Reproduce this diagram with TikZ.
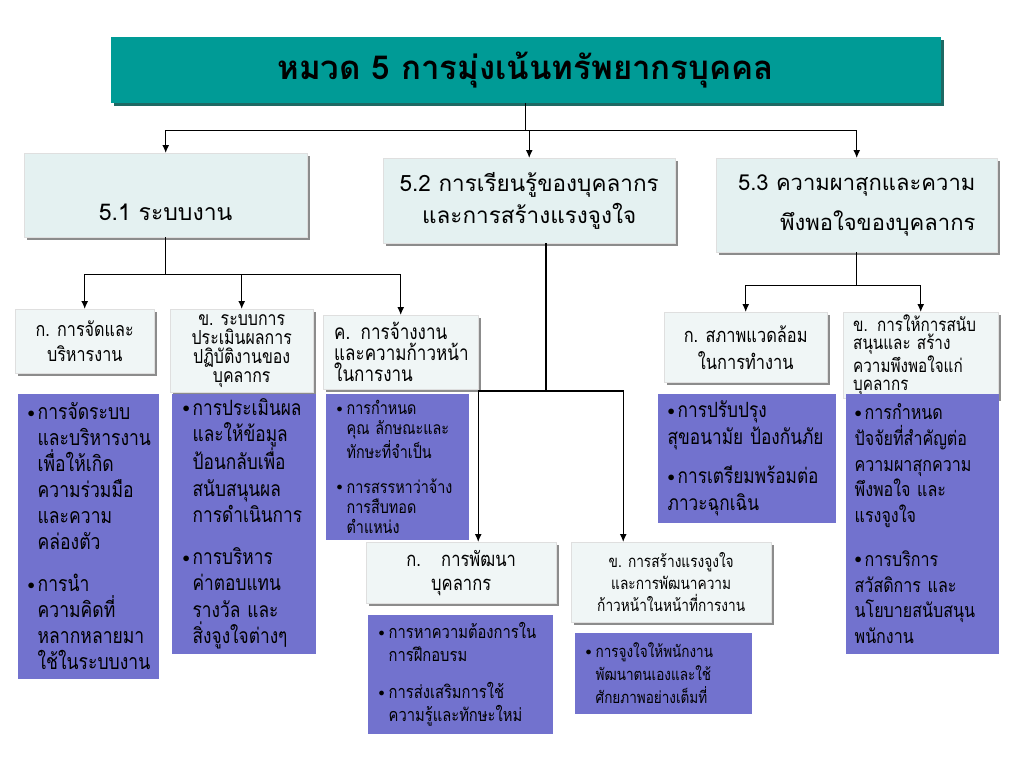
\documentclass[tikz,border=0pt]{standalone}
\usepackage{fontspec}
\setmainfont[Script=Thai]{Loma}
\newfontfamily\narrow[Script=Thai, FakeStretch=0.82]{Loma}
\usetikzlibrary{arrows.meta,shadows}
\definecolor{tealhead}{RGB}{0,155,150}
\definecolor{tealdark}{RGB}{30,105,100}
\definecolor{headbg}{RGB}{228,241,241}
\definecolor{subbg}{RGB}{240,246,246}
\definecolor{itembg}{RGB}{114,114,206}
\newcommand{\bul}{\makebox[10pt][l]{\raisebox{0.12em}{\scalebox{0.7}{$\bullet$}}}}
\newcommand{\ind}{\hspace*{10pt}}

\begin{document}
\begin{tikzpicture}[x=1pt, y=-1pt, line width=1.3pt,
  arr/.style={-{Latex[length=8pt,width=7pt]}},
  wh/.style 2 args={minimum width=#1pt, minimum height=#2pt, anchor=north west},
  head/.style={draw=gray!25, line width=0.4pt, fill=headbg, inner sep=0pt,
    drop shadow={shadow xshift=3pt, shadow yshift=-3pt, fill=black!45, opacity=1}},
  sub/.style={head, fill=subbg},
  item/.style={fill=itembg, inner sep=0pt, align=left}]
\useasboundingbox (0,0) rectangle (1024,768);

\node[wh={830}{66}, fill=tealhead, inner sep=0pt,
  drop shadow={shadow xshift=3pt, shadow yshift=-3pt, fill=tealdark, opacity=1},
  font=\fontsize{33}{38}\selectfont\bfseries] (title) at (110,36) {หมวด 5 การมุ่งเน้นทรัพยากรบุคคล};

\node[head, wh={283}{84}] (s51) at (24,153) {};
\node[font=\fontsize{23}{30}\selectfont] (s51txt) at ([yshift=-17pt]s51.center) {5.1 ระบบงาน};
\node[head, wh={292}{85}, align=center, font=\fontsize{22.5}{32}\selectfont] (s52) at (383,158) {5.2 การเรียนรู้ของบุคลากร\\และการสร้างแรงจูงใจ};
\node[head, wh={281}{94}, align=right, font=\fontsize{22}{40}\selectfont] (s53) at (716,158) {5.3 ความผาสุกและความ\\พึงพอใจของบุคลากร};

\node[sub, wh={139}{64}, align=center, font=\narrow\fontsize{19.7}{25}\selectfont] (a1) at (15,309) {ก. การจัดและ\\บริหารงาน};
\node[sub, wh={143}{83}, align=center, font=\narrow\fontsize{19.4}{19}\selectfont] (a2) at (170,309) {ข. ระบบการ\\ประเมินผลการ\\ปฏิบัติงานของ\\บุคลากร};
\node[sub, wh={155}{74}, text width=133pt, align=left, font=\narrow\fontsize{20.8}{21}\selectfont] (a3) at (323,315) {ค. การจ้างงาน\\และความก้าวหน้า\\ในการงาน};

\node[sub, wh={190}{61}, align=center, font=\narrow\fontsize{20.2}{24}\selectfont] (b1) at (366,542) {ก.\quad การพัฒนา\\บุคลากร};
\node[sub, wh={200}{80}, align=center, font=\narrow\fontsize{16.7}{22}\selectfont] (b2) at (571,542) {ข. การสร้างแรงจูงใจ\\และการพัฒนาความ\\ก้าวหน้าในหน้าที่การงาน};

\node[sub, wh={163}{70}, align=center, font=\narrow\fontsize{20}{27}\selectfont] (c1) at (664,312) {ก. สภาพแวดล้อม\\ในการทำงาน};
\node[sub, wh={155}{86}, text width=135pt, align=left, font=\narrow\fontsize{18.6}{18}\selectfont] (c2) at (843,312) {ข. การให้การสนับ\\สนุนและ สร้าง\\ความพึงพอใจแก่\\บุคลากร};

\node[item, wh={141}{285}, text width=121pt, font=\narrow\fontsize{21.4}{26}\selectfont] (p1) at (17,393) {\bul การจัดระบบ\\\ind และบริหารงาน\\\ind เพื่อให้เกิด\\\ind ความร่วมมือ\\\ind และความ\\\ind คล่องตัว\\[16pt]\bul การนำ\\\ind ความคิดที่\\\ind หลากหลายมา\\\ind ใช้ในระบบงาน};
\node[item, wh={144}{260}, text width=122pt, font=\narrow\fontsize{21.1}{26.25}\selectfont] (p2) at (171,393) {\bul การประเมินผล\\\ind และให้ข้อมูล\\\ind ป้อนกลับเพื่อ\\\ind สนับสนุนผล\\\ind การดำเนินการ\\[16pt]\bul การบริหาร\\\ind ค่าตอบแทน\\\ind รางวัล และ\\\ind สิ่งจูงใจต่างๆ};
\node[item, wh={143}{146}, text width=121pt, font=\narrow\fontsize{17.5}{20}\selectfont] (p3) at (325,393) {\bul การกำหนด\\\ind คุณ ลักษณะและ\\\ind ทักษะที่จำเป็น\\[15pt]\bul การสรรหาว่าจ้าง\\\ind การสืบทอด\\\ind ตำแหน่ง};
\node[item, wh={185}{119}, text width=163pt, font=\narrow\fontsize{18}{23}\selectfont] (q1) at (367,614) {\bul การหาความต้องการใน\\\ind การฝึกอบรม\\[14pt]\bul การส่งเสริมการใช้\\\ind ความรู้และทักษะใหม่};
\node[item, wh={177}{81}, text width=155pt, font=\narrow\fontsize{16.5}{23}\selectfont] (q2) at (574,632) {\bul การจูงใจให้พนักงาน\\\ind พัฒนาตนเองและใช้\\\ind ศักยภาพอย่างเต็มที่};
\node[item, wh={178}{129}, text width=158pt, font=\narrow\fontsize{21}{26.5}\selectfont] (r1) at (657,393) {\bul การปรับปรุง\\สุขอนามัย ป้องกันภัย\\[13pt]\bul การเตรียมพร้อมต่อ\\ภาวะฉุกเฉิน};
\node[item, wh={153}{260}, text width=135pt, font=\narrow\fontsize{19.6}{25.75}\selectfont] (r2) at (845,393) {\bul การกำหนด\\ปัจจัยที่สำคัญต่อ\\ความผาสุกความ\\พึงพอใจ และ\\แรงจูงใจ\\[18pt]\bul การบริการ\\สวัสดิการ และ\\นโยบายสนับสนุน\\พนักงาน};

\draw[arr] (title.south) -- ++(0,27) -| (s51.north);
\draw[arr] (title.south) -- ++(0,27) -| (s52.north);
\draw[arr] (title.south) -- ++(0,27) -| (s53.north);

\draw[arr] (s51.south) -- ++(0,37) -| (a1.north);
\draw[arr] (s51.south) -- ++(0,37) -| (a2.north);
\draw[arr] (s51.south) -- ++(0,37) -| (a3.north);

\coordinate (j52) at (546,391);
\draw (j52 |- s52.south) -- (j52);
\draw[arr] (j52) -| ([xshift=17pt]b1.north);
\draw[arr] (j52) -| ([xshift=-48pt]b2.north);

\draw[arr] (s53.south) -- ++(0,33) -| (c1.north);
\draw[arr] (s53.south) -- ++(0,33) -| (c2.north);
\end{tikzpicture}
\end{document}
